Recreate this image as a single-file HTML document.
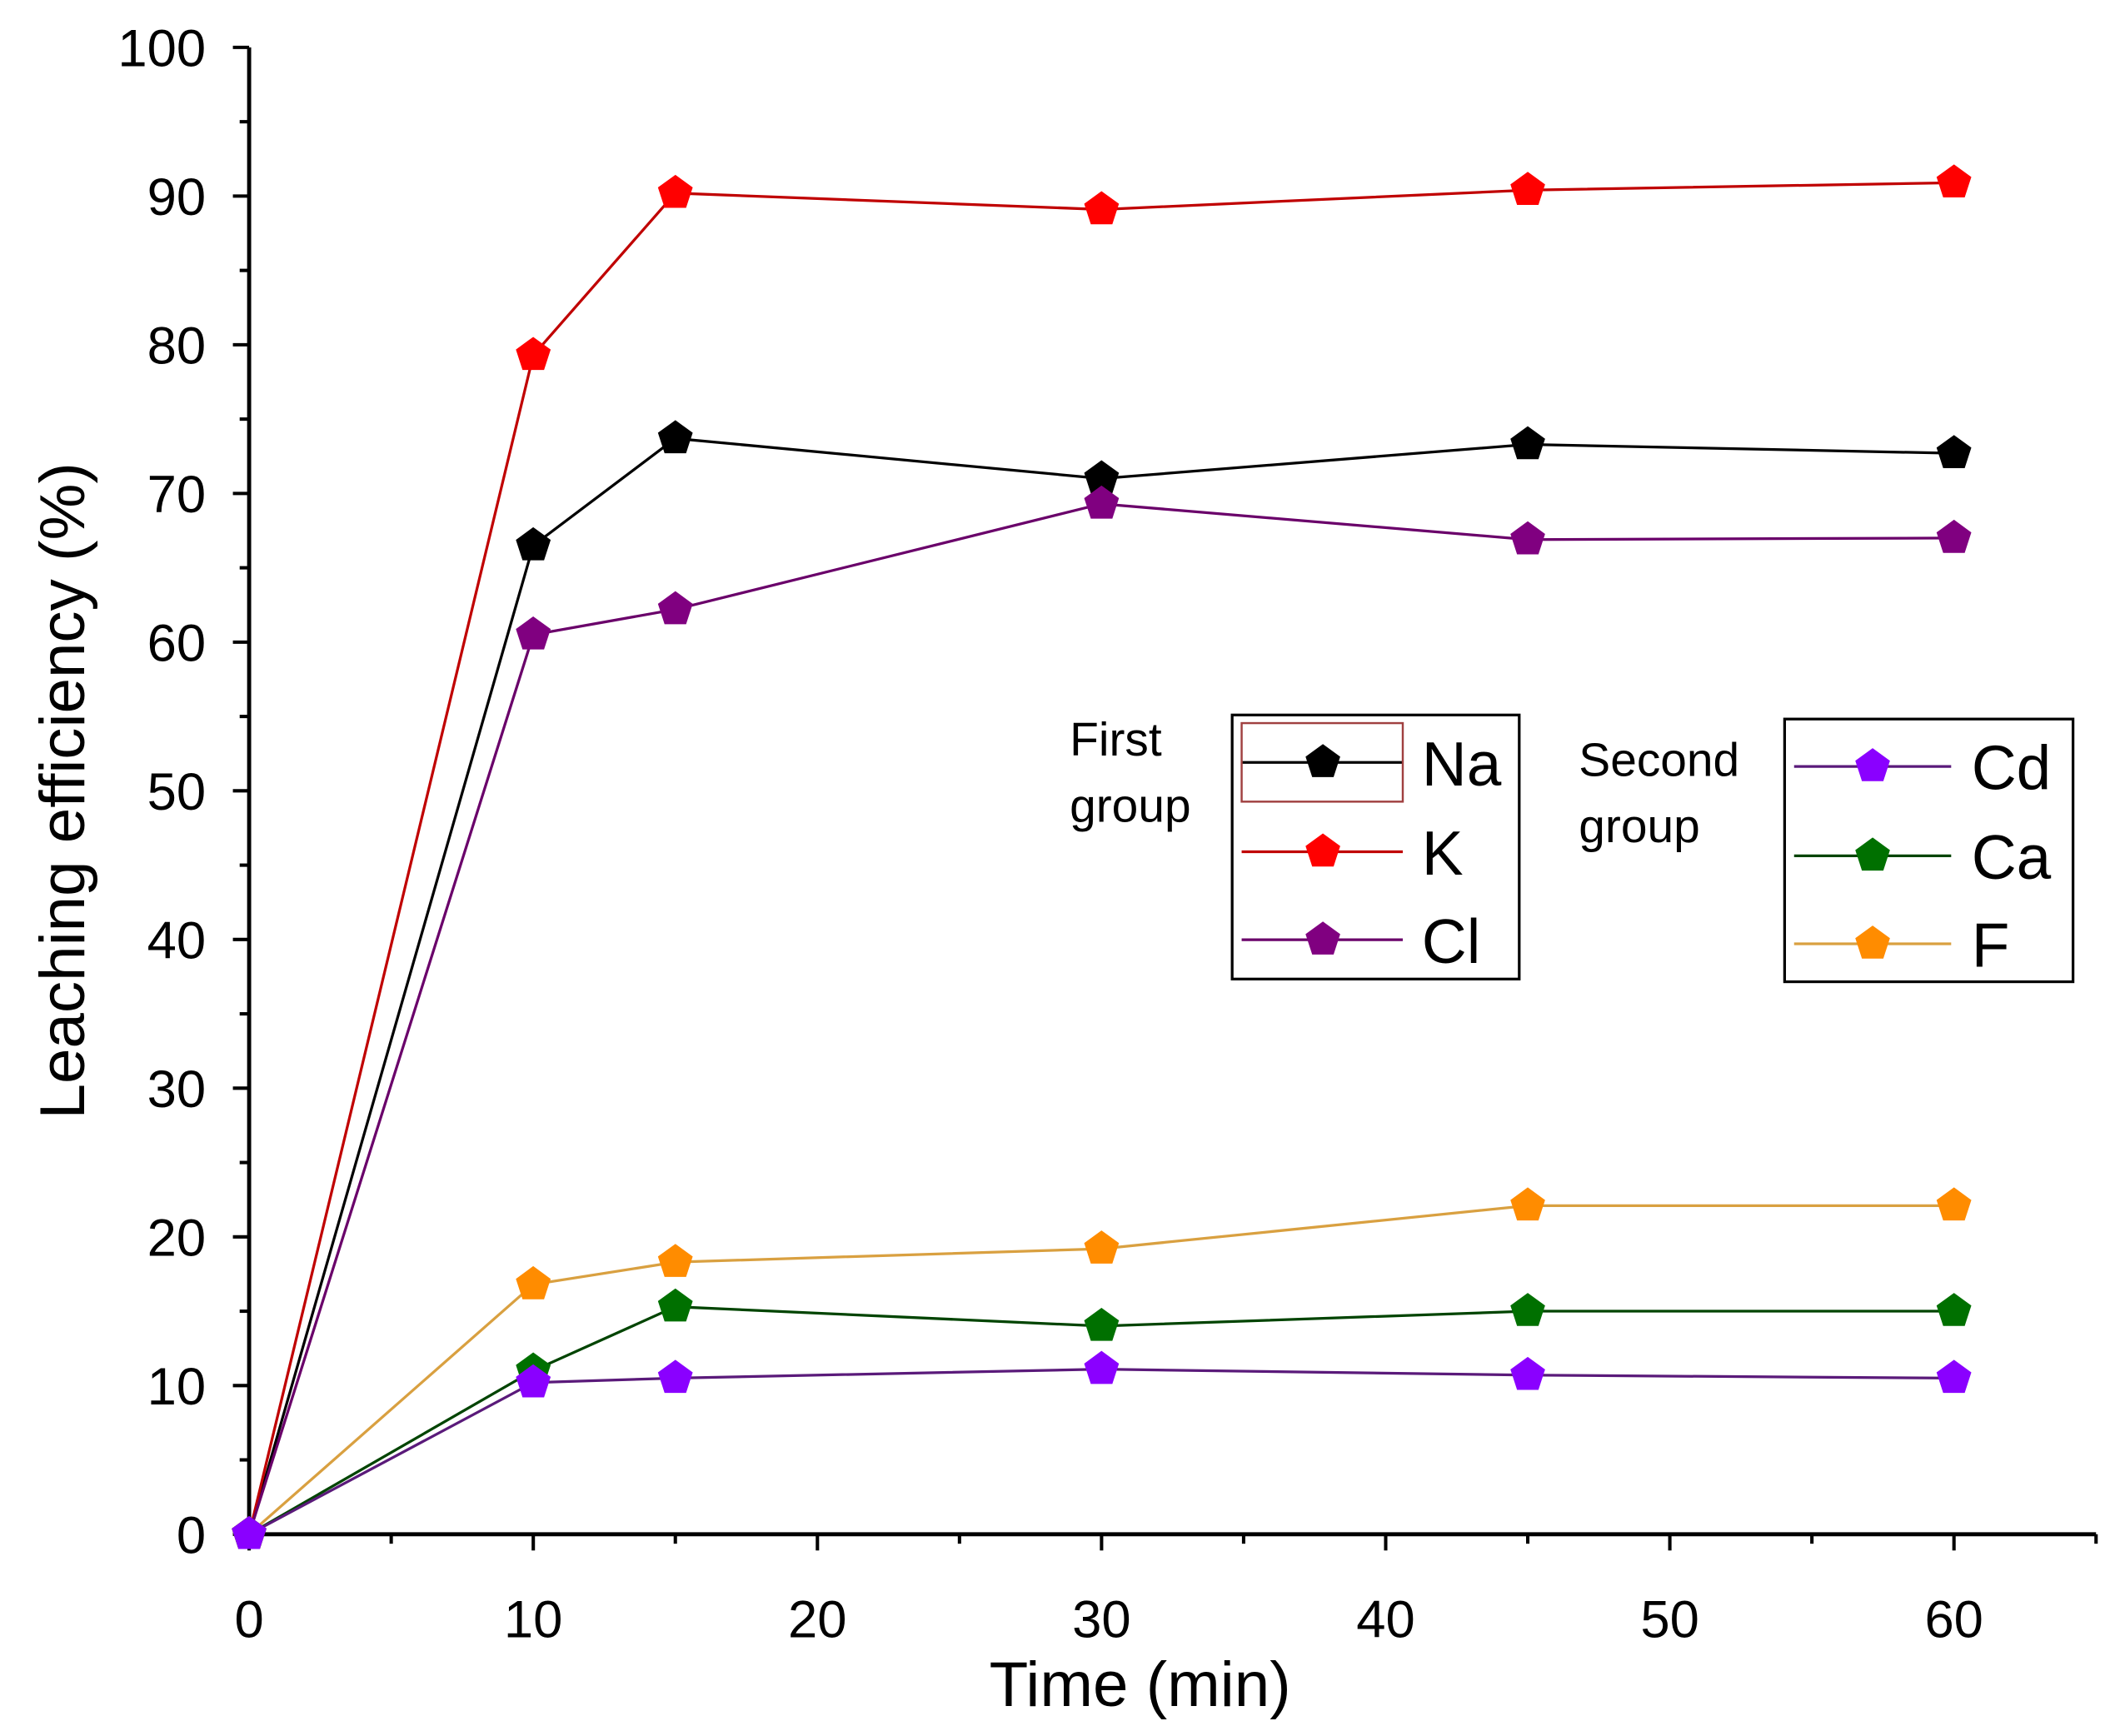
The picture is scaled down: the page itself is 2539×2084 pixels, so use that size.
<!DOCTYPE html>
<html><head><meta charset="utf-8"><style>
html,body{margin:0;padding:0;background:#fff;}
svg{display:block;}
text{font-family:"Liberation Sans",sans-serif;}
</style></head><body>
<svg id="chart" width="2539" height="2084" viewBox="0 0 1562 1282" preserveAspectRatio="none" xmlns="http://www.w3.org/2000/svg">
<g id="grid"></g>
<g id="series"></g>
<g id="legend"></g>
</svg>
<script>
const times = [0, 10, 15, 30, 45, 60];
const naValues = [0, 66.5, 73.7, 71.0, 73.3, 72.7];
const kValues = [0, 79.3, 90.2, 89.1, 90.4, 90.9];
const clValues = [0, 60.5, 62.2, 69.3, 66.9, 67.0];
const cdValues = [0, 10.2, 10.5, 11.1, 10.7, 10.5];
const caValues = [0, 11.0, 15.3, 14.0, 15.0, 15.0];
const fValues = [0, 16.8, 18.3, 19.2, 22.1, 22.1];
const xTickLabels = [0, 10, 20, 30, 40, 50, 60];
const yTickLabels = [0, 10, 20, 30, 40, 50, 60, 70, 80, 90, 100];

const NS = "http://www.w3.org/2000/svg";
const X0 = 184, X1 = 1548, Y0 = 1133, Y1 = 35, XMAX = 65, YMAX = 100;
const xs = v => X0 + (X1 - X0) * v / XMAX;
const ys = v => Y0 - (Y0 - Y1) * v / YMAX;
function mk(tag, attrs, parent, txt) {
  const e = document.createElementNS(NS, tag);
  for (const k in attrs) e.setAttribute(k, attrs[k]);
  if (txt !== undefined) e.textContent = txt;
  parent.appendChild(e);
  return e;
}
function pent(cx, cy, r) {
  const p = [];
  for (let i = 0; i < 5; i++) { const a = -Math.PI / 2 + i * 2 * Math.PI / 5; p.push((cx + r * Math.cos(a)).toFixed(1) + "," + (cy + r * Math.sin(a)).toFixed(1)); }
  return p.join(" ");
}
const grid = document.getElementById("grid");
const series = document.getElementById("series");
const legend = document.getElementById("legend");

let ax = mk("line", {x1: X0, y1: Y0, x2: X1, y2: Y0, stroke: "#000", "stroke-width": 3}, grid);


ax = mk("line", {x1: X0, y1: Y0 + 1.5, x2: X0, y2: Y1, stroke: "#000", "stroke-width": 3}, grid);


for (let v = 0; v <= XMAX; v += 5) {
  const major = v % 10 === 0;
  const t = mk("line", {x1: xs(v), y1: Y0, x2: xs(v), y2: Y0 + (major ? 12 : 7), stroke: "#000", "stroke-width": 2.5}, grid);
  
  
}
xTickLabels.forEach(v => {
  const t = mk("text", {x: xs(v), y: 1209, "text-anchor": "middle", "font-size": 39}, grid, String(v));
  
  
});
for (let v = 0; v <= YMAX; v += 5) {
  const major = v % 10 === 0;
  const t = mk("line", {x1: X0, y1: ys(v), x2: X0 - (major ? 12 : 7), y2: ys(v), stroke: "#000", "stroke-width": 2.5}, grid);
  
  
}
yTickLabels.forEach(v => {
  const t = mk("text", {x: 152, y: ys(v) + 14, "text-anchor": "end", "font-size": 39}, grid, String(v));
  
  
});
let tt = mk("text", {x: 842, y: 1260, "text-anchor": "middle", "font-size": 47}, grid, "Time (min)");


tt = mk("text", {x: 0, y: 0, "text-anchor": "middle", "font-size": 47, transform: "translate(62,584) rotate(-90)"}, grid, "Leaching efficiency (%)");



const defs = [
  {name: "na", vals: naValues, line: "#000", fill: "#000"},
  {name: "k", vals: kValues, line: "#c00000", fill: "#ff0000"},
  {name: "cl", vals: clValues, line: "#6a006a", fill: "#800080"},
  {name: "f", vals: fValues, line: "#d9a040", fill: "#ff8c00"},
  {name: "ca", vals: caValues, line: "#004400", fill: "#007000"},
  {name: "cd", vals: cdValues, line: "#5a1a7a", fill: "#8a00ff"}
];
defs.forEach(d => {
  const g = mk("g", {}, series);
  
  
  const pts = times.map((t, i) => xs(t) + "," + ys(d.vals[i])).join(" ");
  const pl = mk("polyline", {points: pts, fill: "none", stroke: d.line, "stroke-width": 2}, g);
  
  
  times.forEach((t, i) => {
    const m = mk("polygon", {points: pent(xs(t), ys(d.vals[i]), 13.5), fill: d.fill}, g);
    
    
  });
});

function legendBox(x, y, w, h, title1, title2, tx, ty, items, lx1, lx2, mx, labx, rows) {
  const g = mk("g", {}, legend);
  
  
  mk("rect", {x: x, y: y, width: w, height: h, fill: "#fff", stroke: "#000", "stroke-width": 2}, g);
  mk("text", {x: tx, y: ty, "font-size": 35}, g, title1);
  mk("text", {x: tx, y: ty + 49, "font-size": 35}, g, title2);
  items.forEach((it, i) => {
    const e = mk("g", {}, g);
    
    
    mk("line", {x1: lx1, y1: rows[i], x2: lx2, y2: rows[i], stroke: it.line, "stroke-width": 2}, e);
    mk("polygon", {points: pent(mx, rows[i], 13.5), fill: it.fill}, e);
    mk("text", {x: labx, y: rows[i] + 17, "font-size": 46}, e, it.label);
  });
  return g;
}
const lg1 = legendBox(910, 528, 212, 195, "First", "group", 790, 558,
  [{label: "Na", line: "#000", fill: "#000"}, {label: "K", line: "#c00000", fill: "#ff0000"}, {label: "Cl", line: "#6a006a", fill: "#800080"}],
  917, 1036, 977, 1050, [563, 629, 694]);
mk("rect", {x: 917, y: 534, width: 119, height: 58, fill: "none", stroke: "#a04040", "stroke-width": 1.5}, lg1);
legendBox(1318, 531, 213, 194, "Second", "group", 1166, 573,
  [{label: "Cd", line: "#5a1a7a", fill: "#8a00ff"}, {label: "Ca", line: "#004400", fill: "#007000"}, {label: "F", line: "#d9a040", fill: "#ff8c00"}],
  1325, 1441, 1383, 1456, [566, 632, 697]);
</script>
</body></html>
